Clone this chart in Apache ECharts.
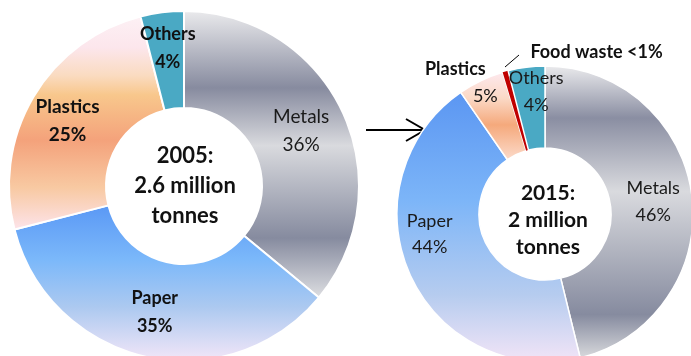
<!DOCTYPE html>
<html>
<head>
<meta charset="utf-8">
<script src="https://cdn.jsdelivr.net/npm/echarts@6/dist/echarts.min.js"></script>
<style>
html,body{margin:0;padding:0;background:#fff;}
#c{width:691px;height:356px;}
</style>
</head>
<body>
<div id="c"></div>
<script>
// ---- data ----
var categories2005 = ['Metals', 'Paper', 'Plastics', 'Others'];
var values2005 = [36, 35, 25, 4];
var categories2015 = ['Metals', 'Paper', 'Plastics', 'Food waste', 'Others'];
var values2015 = [46, 44, 5, 0.6, 4];
var labels2015 = ['46%', '44%', '5%', '<1%', '4%'];
var centerText2005 = ['2005:', '2.6 million', 'tonnes'];
var centerText2015 = ['2015:', '2 million', 'tonnes'];

function lg(stops) {
  return {type: 'linear', x: 0, y: 0, x2: 0, y2: 1,
    colorStops: stops.map(function (s) { return {offset: s[0], color: s[1]}; })};
}
var metalsL = lg([[0,'#ebebed'],[0.27,'#878b9f'],[0.47,'#d9dade'],[0.79,'#868b9f'],[1,'#dedfe2']]);
var metalsR = lg([[0,'#ebebed'],[0.18,'#8a8ea2'],[0.43,'#d9dade'],[0.85,'#868b9f'],[1,'#d9dadd']]);
var paperL = lg([[0,'#5a98f5'],[0.35,'#7bb8fa'],[0.65,'#acc9f0'],[1,'#f4e7f8']]);
var paperR = lg([[0,'#5b96f2'],[0.4,'#7cb5f8'],[0.75,'#b6ccef'],[1,'#f3e5f7']]);
var plasticsL = lg([[0,'#fdf1f5'],[0.15,'#fce6ec'],[0.28,'#fadbc0'],[0.37,'#f8c78c'],[0.58,'#f4a27b'],[0.8,'#f8c9a2'],[1,'#fde4ec']]);
var plasticsR = lg([[0,'#fde9ef'],[0.3,'#fbd9c6'],[0.6,'#f5a97c'],[1,'#fcdccc']]);
var othersC = '#4aa9c4';
var foodC = '#c00000';

var font = 'Lato, "Liberation Sans", sans-serif';
function lab(fmt, off, weight, extra) {
  var o = {show: true, position: 'inside', formatter: fmt, offset: off, fontFamily: font,
    fontSize: 18, fontWeight: weight, color: '#111', lineHeight: 28, textBorderWidth: 0};
  if (extra) for (var k in extra) o[k] = extra[k];
  return o;
}

var leftColors = [metalsL, paperL, plasticsL, othersC];
var leftLabels = [
  lab('{b}\n{c}%', [0, 0], 'normal', {color: '#1a1a1a', fontSize: 19}),
  lab('{b}\n{c}%', [-1, 0], 'bold'),
  lab('{b}\n{c}%', [-5, 1], 'bold', {fontSize: 19}),
  lab('{b}\n{c}%', [0, -9], 'bold')
];
var data2005 = categories2005.map(function (n, i) {
  return {name: n, value: values2005[i], itemStyle: {color: leftColors[i]}, label: leftLabels[i]};
});

var rightColors = [metalsR, paperR, plasticsR, foodC, othersC];
var rightLabels = [
  lab('{b}\n' + labels2015[0], [-1, 1], 'normal', {color: '#1a1a1a', lineHeight: 27}),
  lab('{b}\n' + labels2015[1], [-15, -25], 'normal', {color: '#1a1a1a', lineHeight: 26}),
  {show: true, position: 'inside', offset: [-36, -33], fontFamily: font, fontSize: 18,
   formatter: '{a|{b}}\n{p|' + labels2015[2] + '}',
   rich: {a: {fontSize: 18, fontFamily: font, fontWeight: 'bold', color: '#111', lineHeight: 29, align: 'left'},
          p: {fontSize: 18, fontFamily: font, fontWeight: 'normal', color: '#111', lineHeight: 26, align: 'left', padding: [0, 0, 0, 48]}}},
  {show: true, position: 'inside', offset: [81, -56], fontFamily: font, fontSize: 18,
   fontWeight: 'bold', color: '#111', formatter: '{b} ' + labels2015[3]},
  lab('{b}\n' + labels2015[4], [5, -13], 'normal', {color: '#1a1a1a', lineHeight: 27})
];
var data2015 = categories2015.map(function (n, i) {
  var d = {name: n, value: values2015[i], itemStyle: {color: rightColors[i]}, label: rightLabels[i]};
  if (n === 'Food waste') d.itemStyle.borderWidth = 0;
  return d;
});

var chart = echarts.init(document.getElementById('c'), null, {renderer: 'canvas'});
chart.setOption({
  animation: false,
  backgroundColor: '#fff',
  series: [
    {type: 'pie', center: [184, 186], radius: [78, 175], startAngle: 90, clockwise: true,
     avoidLabelOverlap: false, labelLine: {show: false}, silent: true,
     itemStyle: {borderColor: '#fff', borderWidth: 2},
     data: data2005},
    {type: 'pie', center: [545, 214], radius: [66, 148], startAngle: 90, clockwise: true,
     minAngle: 0, avoidLabelOverlap: false, labelLine: {show: false}, silent: true,
     itemStyle: {borderColor: '#fff', borderWidth: 1.5},
     data: data2015}
  ],
  graphic: [
    {type: 'text', x: 185, y: 186, style: {text: centerText2005.join('\n'),
      font: 'bold 22px ' + font, fill: '#111', align: 'center', verticalAlign: 'middle', lineHeight: 30}},
    {type: 'text', x: 548, y: 220, style: {text: centerText2015.join('\n'),
      font: 'bold 21px ' + font, fill: '#111', align: 'center', verticalAlign: 'middle', lineHeight: 27}},
    {type: 'line', shape: {x1: 366, y1: 130, x2: 424, y2: 130}, style: {stroke: '#000', lineWidth: 2}},
    {type: 'polyline', shape: {points: [[406, 119], [425, 130], [406, 141]]}, style: {stroke: '#000', lineWidth: 2, fill: null}},
    {type: 'line', shape: {x1: 505, y1: 67, x2: 519, y2: 55}, style: {stroke: '#000', lineWidth: 1}}
  ]
});
</script>
</body>
</html>
